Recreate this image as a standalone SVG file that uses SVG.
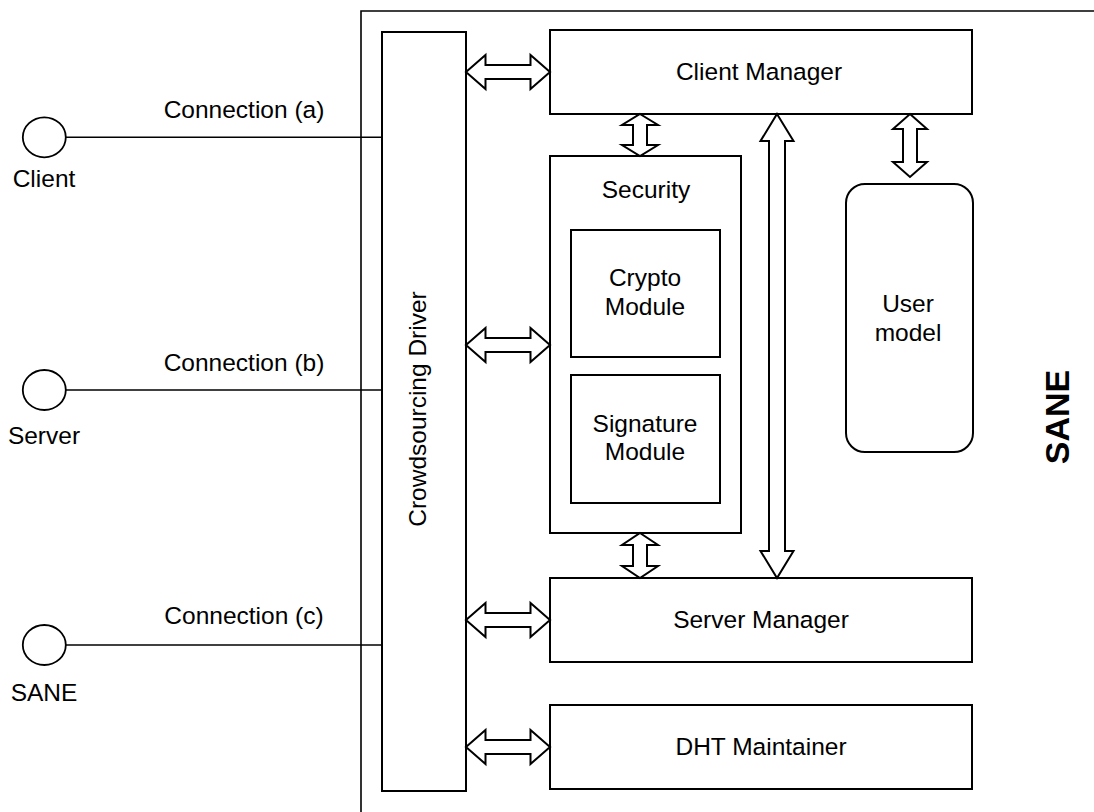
<svg xmlns="http://www.w3.org/2000/svg" width="1094" height="812" viewBox="0 0 1094 812">
<style>
text{font-family:"Liberation Sans",Arial,Helvetica,sans-serif;font-size:24.5px;fill:#000;text-anchor:middle}
.box{fill:#fff;stroke:#000;stroke-width:2}
.arr{fill:#fff;stroke:#000;stroke-width:2;stroke-linejoin:miter}
.ln{stroke:#000;stroke-width:1.6;fill:none}
.ep{fill:#fff;stroke:#000;stroke-width:1.8}
</style>
<rect width="1094" height="812" fill="#fff"/>
<g id="sane-container">
<path d="M1100,11 H361 V815" class="ln" stroke-width="2"/>
<text x="1069" y="417" transform="rotate(-90 1069 417)" style="font-weight:bold;font-size:34px">SANE</text>
</g>
<g id="crowdsourcing-driver">
<rect x="382" y="32" width="84" height="759" class="box"/>
<text x="426" y="409" transform="rotate(-90 426 409)">Crowdsourcing Driver</text>
</g>
<g id="client-manager">
<rect x="550" y="30" width="422" height="84" class="box"/>
<text x="759" y="80">Client Manager</text>
</g>
<g id="security">
<rect x="550" y="156" width="191" height="377" class="box"/>
<text x="646" y="198">Security</text>
</g>
<g id="crypto-module">
<rect x="571" y="230" width="149" height="127" class="box"/>
<text x="645" y="286">Crypto</text>
<text x="645" y="315">Module</text>
</g>
<g id="signature-module">
<rect x="571" y="375" width="149" height="128" class="box"/>
<text x="645" y="432">Signature</text>
<text x="645" y="460">Module</text>
</g>
<g id="user-model">
<rect x="846" y="184" width="127" height="268" rx="19" ry="19" class="box"/>
<text x="908" y="312">User</text>
<text x="908" y="341">model</text>
</g>
<g id="server-manager">
<rect x="550" y="578" width="422" height="84" class="box"/>
<text x="761" y="628">Server Manager</text>
</g>
<g id="dht-maintainer">
<rect x="550" y="705" width="422" height="84" class="box"/>
<text x="761" y="755">DHT Maintainer</text>
</g>
<g id="client">
<ellipse cx="44.3" cy="137.3" rx="21.5" ry="20" class="ep"/>
<text x="44" y="187">Client</text>
</g>
<g id="server">
<ellipse cx="44.3" cy="390" rx="21.5" ry="20" class="ep"/>
<text x="44" y="444">Server</text>
</g>
<g id="sane-peer">
<ellipse cx="44.3" cy="645" rx="21.5" ry="20" class="ep"/>
<text x="44" y="701">SANE</text>
</g>
<g id="connectors">
<line x1="66" y1="137.3" x2="383" y2="137.3" class="ln"/>
<text x="244" y="118">Connection (a)</text>
<line x1="66" y1="390" x2="383" y2="390" class="ln"/>
<text x="244" y="371">Connection (b)</text>
<line x1="66" y1="645" x2="383" y2="645" class="ln"/>
<text x="244" y="624">Connection (c)</text>
<polygon class="arr" points="466,72 485.5,55 485.5,65 530.5,65 530.5,55 550,72 530.5,89 530.5,79 485.5,79 485.5,89"/>
<polygon class="arr" points="466,345 485.5,328 485.5,338 530.5,338 530.5,328 550,345 530.5,362 530.5,352 485.5,352 485.5,362"/>
<polygon class="arr" points="466,620 485.5,603 485.5,613 530.5,613 530.5,603 550,620 530.5,637 530.5,627 485.5,627 485.5,637"/>
<polygon class="arr" points="466,747 485.5,730 485.5,740 530.5,740 530.5,730 550,747 530.5,764 530.5,754 485.5,754 485.5,764"/>
<polygon class="arr" points="640,114 658,125 647,125 647,145 658,145 640,156 622,145 633,145 633,125 622,125"/>
<polygon class="arr" points="640,533 658,545 647,545 647,566 658,566 640,578 622,566 633,566 633,545 622,545"/>
<polygon class="arr" points="910,114 927,129 917,129 917,162 927,162 910,177 893,162 903,162 903,129 893,129"/>
<polygon class="arr" points="777,114 793.5,141 785,141 785,551 793.5,551 777,578 760.5,551 769,551 769,141 760.5,141"/>
</g>
</svg>
